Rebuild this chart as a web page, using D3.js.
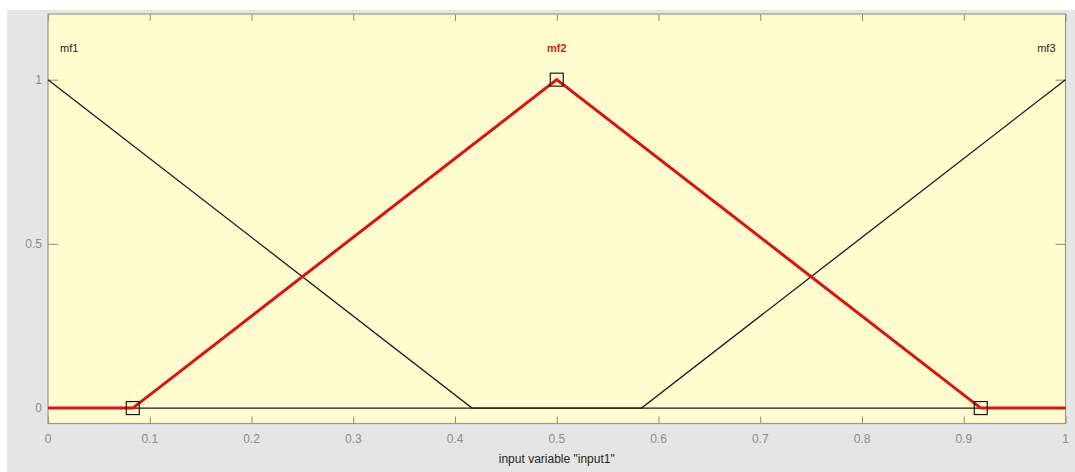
<!DOCTYPE html>
<html>
<head>
<meta charset="utf-8">
<script src="https://cdn.jsdelivr.net/npm/d3@7"></script>
<style>
  body { margin: 0; background: #ffffff; }
  svg { display: block; font-family: "Liberation Sans", Arial, sans-serif; }
</style>
</head>
<body>
<div id="chart"></div>
<script>
// membership functions (trimf params) and plotted vertices
const mfNames = ['mf1', 'mf2', 'mf3'];
const mf1 = [[0, 1], [0.4167, 0], [1, 0]];
const mf2 = [[0, 0], [0.0833, 0], [0.5, 1], [0.9167, 0], [1, 0]];
const mf3 = [[0, 0], [0.5833, 0], [1, 1]];
const mf2Handles = [[0.0833, 0], [0.5, 1], [0.9167, 0]];
const xTicks = [0, 0.1, 0.2, 0.3, 0.4, 0.5, 0.6, 0.7, 0.8, 0.9, 1];
const yTicks = [0, 0.5, 1];
const xLabel = 'input variable "input1"';

const W = 1075, H = 472;
const box = {left: 48, right: 1065.5, top: 14, bottom: 423.5};

const svg = d3.select('#chart')
    .append('svg')
    .attr('width', W)
    .attr('height', H);

// figure background
svg.append('rect')
    .attr('x', 7).attr('y', 10)
    .attr('width', W - 7).attr('height', H - 10)
    .attr('fill', '#e5e5e5');

const x = d3.scaleLinear().domain([0, 1]).range([box.left, box.right]);
const y = d3.scaleLinear().domain([-0.047, 1.2]).range([box.bottom, box.top]);

// axes area
svg.append('rect')
    .attr('x', box.left).attr('y', box.top)
    .attr('width', box.right - box.left).attr('height', box.bottom - box.top)
    .attr('fill', '#fffdcf');

// inward ticks on all four sides
const tickCol = '#8a8a7a';
svg.append('g')
    .attr('transform', `translate(0,${box.bottom})`)
    .call(d3.axisTop(x).tickValues(xTicks).tickSize(7).tickFormat(''))
    .call(g => g.select('.domain').remove())
    .call(g => g.selectAll('line').attr('stroke', tickCol));
svg.append('g')
    .attr('transform', `translate(0,${box.top})`)
    .call(d3.axisBottom(x).tickValues(xTicks).tickSize(7).tickFormat(''))
    .call(g => g.select('.domain').remove())
    .call(g => g.selectAll('line').attr('stroke', tickCol));
svg.append('g')
    .attr('transform', `translate(${box.left},0)`)
    .call(d3.axisRight(y).tickValues(yTicks).tickSize(10).tickFormat(''))
    .call(g => g.select('.domain').remove())
    .call(g => g.selectAll('line').attr('stroke', tickCol));
svg.append('g')
    .attr('transform', `translate(${box.right},0)`)
    .call(d3.axisLeft(y).tickValues(yTicks).tickSize(10).tickFormat(''))
    .call(g => g.select('.domain').remove())
    .call(g => g.selectAll('line').attr('stroke', tickCol));

// tick labels
svg.append('g').selectAll('text')
    .data(xTicks)
    .join('text')
    .attr('x', d => x(d))
    .attr('y', box.bottom + 19)
    .attr('text-anchor', 'middle')
    .attr('fill', '#8c8c8c')
    .style('font-size', '12px')
    .text(d => d);
svg.append('g').selectAll('text')
    .data(yTicks)
    .join('text')
    .attr('x', box.left - 6)
    .attr('y', d => y(d) + 4)
    .attr('text-anchor', 'end')
    .attr('fill', '#8c8c8c')
    .style('font-size', '12px')
    .text(d => d);

// x label
svg.append('text')
    .attr('x', x(0.5))
    .attr('y', box.bottom + 39)
    .attr('text-anchor', 'middle')
    .attr('fill', '#262626')
    .style('font-size', '12px')
    .text(xLabel);

// box border
svg.append('rect')
    .attr('x', box.left).attr('y', box.top)
    .attr('width', box.right - box.left).attr('height', box.bottom - box.top)
    .attr('fill', 'none')
    .attr('stroke', '#9a9a8c')
    .attr('stroke-width', 1.2);

const line = d3.line().x(d => x(d[0])).y(d => y(d[1]));

// black mfs
[mf1, mf3].forEach(pts => {
    svg.append('path')
        .attr('d', line(pts))
        .attr('fill', 'none')
        .attr('stroke', '#1a1a1a')
        .attr('stroke-width', 1.3);
});

// selected mf in red
svg.append('path')
    .attr('d', line(mf2))
    .attr('fill', 'none')
    .attr('stroke', '#e01010')
    .attr('stroke-width', 3);

// vertex handles
svg.append('g').selectAll('rect')
    .data(mf2Handles)
    .join('rect')
    .attr('x', d => x(d[0]) - 6.5)
    .attr('y', d => y(d[1]) - 6.5)
    .attr('width', 13).attr('height', 13)
    .attr('fill', 'none')
    .attr('stroke', '#1a1a1a')
    .attr('stroke-width', 1.2);

// mf labels
svg.append('text')
    .attr('x', x(0) + 12).attr('y', 52)
    .attr('fill', '#262626')
    .style('font-size', '11px')
    .text(mfNames[0]);
svg.append('text')
    .attr('x', x(0.5)).attr('y', 52)
    .attr('text-anchor', 'middle')
    .attr('fill', '#d41a1a')
    .style('font-size', '11px')
    .style('font-weight', 'bold')
    .text(mfNames[1]);
svg.append('text')
    .attr('x', x(1) - 10).attr('y', 52)
    .attr('text-anchor', 'end')
    .attr('fill', '#262626')
    .style('font-size', '11px')
    .text(mfNames[2]);
</script>
</body>
</html>
